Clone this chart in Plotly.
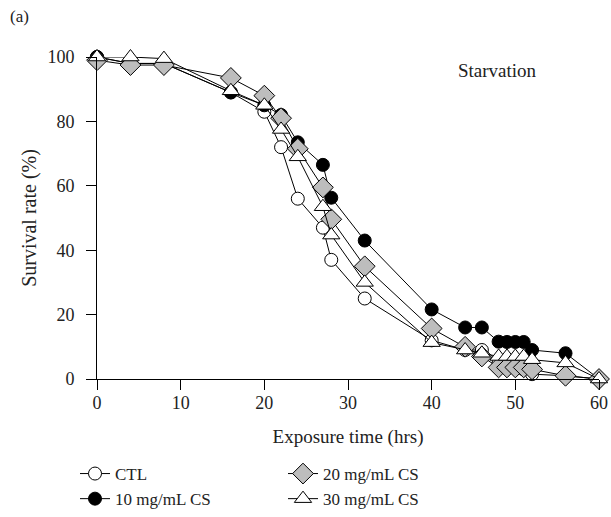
import plotly.graph_objects as go

hours = [0, 4, 8, 16, 20, 22, 24, 27, 28, 32, 40, 44, 46, 48, 49, 50, 51, 52, 56, 60]
ctl = [100, 98, 98, 89, 83, 72, 56, 47, 37, 25, 12, 9, 9, 5, 5, 4, 3, 1.5, 1, 0]
cs10 = [100, 98, 98, 89, 85, 82, 73.5, 66.5, 56.3, 43, 21.6, 16, 16, 11.6, 11.5, 11.5, 11.5, 9, 8, 0]
cs20 = [99, 97.5, 97.5, 93.5, 88, 81, 71.5, 59.5, 49.6, 35, 15.7, 10, 7, 3.6, 3.6, 3.6, 3.6, 3, 1, 0]
cs30 = [100, 100, 99.5, 89.5, 85, 77.5, 69, 53.5, 44.7, 30, 11.3, 9, 8, 7, 7, 7, 7, 6, 5, 0]

x_ticks = [0, 10, 20, 30, 40, 50, 60]
y_ticks = [0, 20, 40, 60, 80, 100]

FONT = "Liberation Serif"
TXT = "#222"

W, H = 611, 517
L, T, R, B = 97, 57, 12, 138
PW, PH = W - L - R, H - T - B

series = [
    ("CTL", ctl, "circle", "white", 13, 1),
    ("10 mg/mL CS", cs10, "circle", "black", 13, 3),
    ("20 mg/mL CS", cs20, "diamond", "#bdbdbd", 16, 2),
    ("30 mg/mL CS", cs30, "triangle-up", "white", 15, 4),
]

fig = go.Figure()
for name, vals, sym, fill, size, rank in series:
    fig.add_trace(go.Scatter(
        x=hours, y=vals, name=name, mode="lines+markers",
        line=dict(color="black", width=1),
        marker=dict(symbol=sym, color=fill, size=size,
                    line=dict(color="black", width=1)),
        cliponaxis=False, legendrank=rank,
    ))

fig.update_layout(
    width=W, height=H,
    margin=dict(l=L, r=R, t=T, b=B, autoexpand=False),
    paper_bgcolor="white", plot_bgcolor="white",
    font=dict(family=FONT, size=18, color=TXT),
    showlegend=True,
    legend=dict(orientation="h", xref="container", yref="container",
                x=75 / W, y=0.0, xanchor="left", yanchor="bottom",
                entrywidth=163, entrywidthmode="pixels",
                font=dict(family=FONT, size=17, color=TXT),
                tracegroupgap=0, itemwidth=30, bgcolor="rgba(0,0,0,0)"),
    annotations=[
        dict(text="Starvation", x=(497 - L) / PW, y=(H - B - 70) / PH,
             xref="paper", yref="paper", xanchor="center", yanchor="middle",
             showarrow=False, font=dict(family=FONT, size=19, color=TXT)),
        dict(text="(a)", x=(8 - L) / PW, y=(H - B - 17) / PH,
             xref="paper", yref="paper", xanchor="left", yanchor="middle",
             showarrow=False, font=dict(family=FONT, size=17, color=TXT)),
    ],
)
fig.update_xaxes(range=[0, 60], tickvals=x_ticks, ticks="outside", ticklen=10,
                 showline=True, linecolor="black", linewidth=1, showgrid=False,
                 zeroline=False, automargin=False, tickcolor="black",
                 ticklabelstandoff=-3,
                 title=dict(text="Exposure time (hrs)", standoff=18,
                            font=dict(family=FONT, size=19, color=TXT)))
fig.update_yaxes(range=[0, 100], tickvals=y_ticks, ticks="outside", ticklen=10,
                 showline=True, linecolor="black", linewidth=1, showgrid=False,
                 zeroline=False, automargin=False, tickcolor="black",
                 ticklabelstandoff=8,
                 title=dict(text="Survival rate (%)", standoff=5,
                            font=dict(family=FONT, size=20, color=TXT)))

# remove the default 8px page margin so the figure sits at the window corner
fig.write_html("out.html", config={"displayModeBar": False},
               post_script="document.body.style.margin='0';")
